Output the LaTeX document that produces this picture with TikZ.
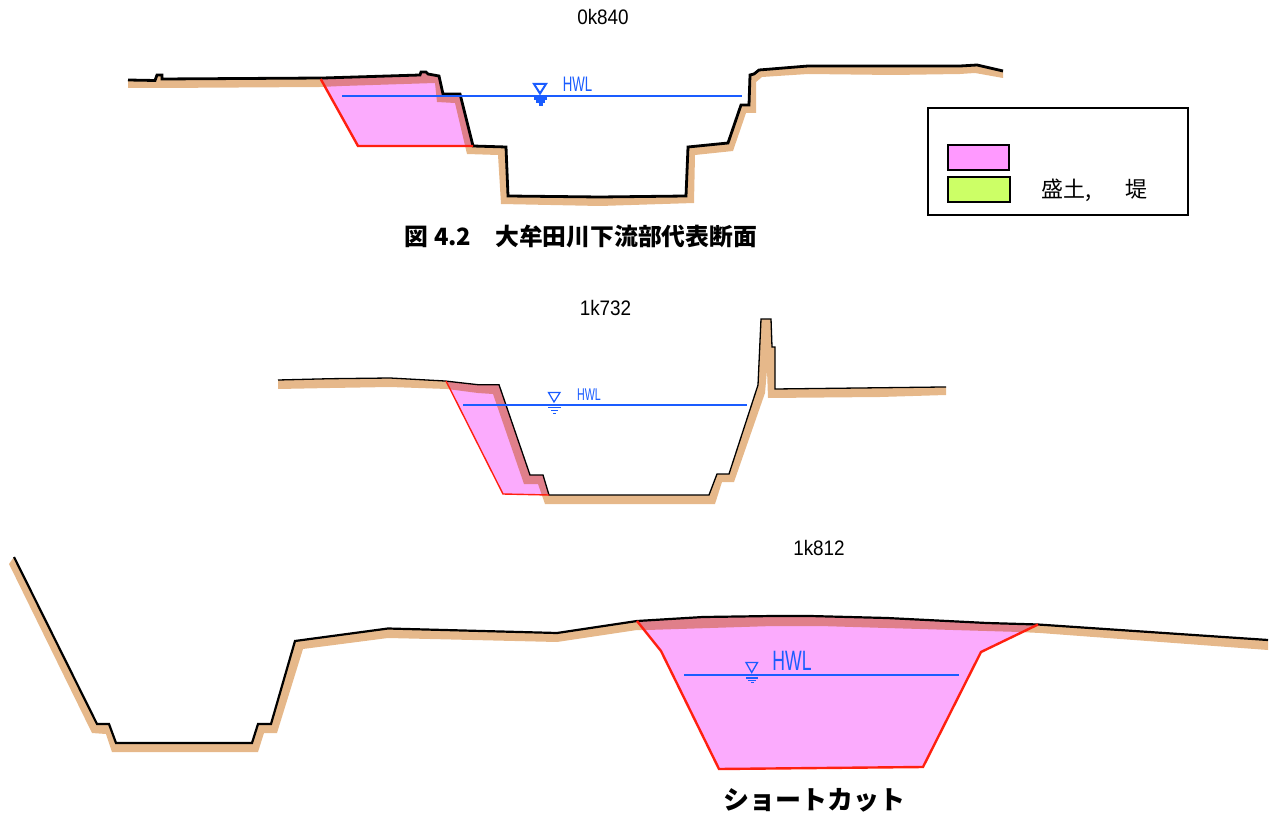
\documentclass[tikz,border=0pt]{standalone}
\usepackage{fontspec}
\setmainfont{Liberation Sans}
\newfontfamily\cjkfont{Noto Sans CJK JP}
\usepackage{tikz}
\definecolor{tierra}{HTML}{E6B88A}
\definecolor{rosacl}{HTML}{FBABFD}
\definecolor{rosaos}{HTML}{E07F8A}
\definecolor{rosaley}{HTML}{FF99FF}
\definecolor{verdeley}{HTML}{CCFF66}
\definecolor{azulhwl}{HTML}{1A5CFF}
\definecolor{rojocl}{HTML}{FF2010}
\newcommand{\FS}[1]{\fontsize{#1}{#1}\selectfont}
% Terreno: linea superior de cada seccion
\newcommand{\lineaA}{(128,80) -- (155,80.5) -- (157,75) -- (162,75) -- (162,79) -- (323,78) -- (420,75) -- (421,72) -- (426,72) -- (428,74) -- (439,76) -- (443,94) -- (460,94) -- (473,146) -- (506,147) -- (508,196) -- (600,197) -- (686,196) -- (688,147) -- (728,143) -- (741,105) -- (749,105) -- (750,75) -- (754,74) -- (759,70) -- (808,66) -- (893,66) -- (960,66) -- (977,65) -- (1003,71)}
\newcommand{\lineaB}{(278,380) -- (330,378.7) -- (390,378) -- (445,381) -- (478,384.7) -- (499,384.7) -- (530,475) -- (543,475) -- (549,495) -- (709,495) -- (717,474) -- (729,474) -- (758,385) -- (761,319) -- (771,319) -- (772,347) -- (775,347) -- (775,389) -- (943,387) -- (946,387)}
\newcommand{\lineaC}{(14,557) -- (97,724) -- (109,724) -- (116,743) -- (252,743) -- (258,724) -- (271,724) -- (295,641) -- (388,628.5) -- (557,633) -- (637,621) -- (703,617) -- (773,616) -- (810,616) -- (887,618) -- (987,623) -- (1038,624.5) -- (1268,640)}
% Banda de tierra: linea superior y vuelta por abajo
\newcommand{\bandaA}{\lineaA -- (1003,78) -- (975,73) -- (960,74) -- (893,75) -- (808,74) -- (762,77) -- (756,82) -- (756,113) -- (746,113) -- (733,151) -- (695,155) -- (694,203) -- (600,206) -- (501,204) -- (498,155) -- (467,154) -- (455,103) -- (437,102) -- (435,83) -- (342,86) -- (320,87) -- (158,88) -- (128,88) -- cycle}
\newcommand{\bandaB}{\lineaB -- (946,395) -- (880,397) -- (768,398) -- (767,370) -- (765,393) -- (734,482) -- (722,482) -- (715,504) -- (545,504) -- (538,484) -- (524,484) -- (493,394) -- (478,393) -- (447,389) -- (390,387) -- (330,388) -- (278,389) -- cycle}
\newcommand{\bandaC}{\lineaC -- (1268,650) -- (1040,633) -- (1020,632) -- (820,626) -- (773,626) -- (647,630) -- (637,630) -- (557,642) -- (388,638) -- (303,649) -- (277,733) -- (264,733) -- (258,752) -- (112,752) -- (106,734) -- (92,733) -- (9,564) -- cycle}
% Relleno rosa
\newcommand{\rellenoA}{(320.7,79) -- (358,146) -- (473,146) -- (460,94) -- (443,94) -- (439,76) -- (428,74) -- (426,72) -- (421,72) -- (420,75) -- (323,78) -- cycle}
\newcommand{\rellenoB}{(446,381) -- (503,494) -- (549,495) -- (543,475) -- (530,475) -- (499,384.7) -- (478,384.7) -- cycle}
\newcommand{\rellenoC}{(637,621) -- (661,651) -- (719,769) -- (923,767) -- (981,652) -- (1038,624.5) -- (987,623) -- (887,618) -- (810,616) -- (773,616) -- (703,617) -- cycle}
\tikzset{
  etiqueta/.style={font=\FS{21}, transform shape, xscale=.9, text=black},
  hwl/.style={text=azulhwl, transform shape, xscale=.63, inner sep=0pt},
  titulo/.style={text=black, inner sep=0pt}
}
\begin{document}
\begin{tikzpicture}[x=1pt,y=-1pt,line join=miter]
        \useasboundingbox (0,0) rectangle (1279,818);
        %######## Seccion 0k840 #############
        \fill[tierra] \bandaA;
        \fill[rosacl] \rellenoA;
        \begin{scope}
            \clip \rellenoA;
            \fill[rosaos] \bandaA;
        \end{scope}
        \draw[line width=2.8pt] \lineaA;
        \draw[rojocl, line width=2.4pt] (320.7,79) -- (358,146) -- (473,146);
        \draw[azulhwl, line width=2.4pt] (342,96) -- (742,96);
        % Marca HWL
        \draw[azulhwl, line width=2pt] (534,84) -- (546,84) -- (540,93.5) -- cycle;
        \draw[azulhwl, line width=2.2pt] (534,98.5) -- (547,98.5);
        \draw[azulhwl, line width=2.2pt] (536,101.5) -- (545,101.5);
        \draw[azulhwl, line width=2.2pt] (538.5,104.5) -- (542.5,104.5);
        \node[hwl, font=\FS{21}] (hwlA) at (577.5,84) {HWL};
        \node[etiqueta] (kmA) at (603,17) {0k840};
        %######## Seccion 1k732 #############
        \fill[tierra] \bandaB;
        \fill[rosacl] \rellenoB;
        \begin{scope}
            \clip \rellenoB;
            \fill[rosaos] \bandaB;
        \end{scope}
        \draw[line width=1.3pt] \lineaB;
        \draw[rojocl, line width=1.4pt] (446,381) -- (503,494) -- (549,495);
        \draw[azulhwl, line width=1.4pt] (463,405) -- (747,405);
        % Marca HWL
        \draw[azulhwl, line width=1.2pt] (548.5,392.5) -- (560,392.5) -- (554,402) -- cycle;
        \draw[azulhwl, line width=1.2pt] (548,407.7) -- (561,407.7);
        \draw[azulhwl, line width=1.2pt] (551,410.7) -- (558,410.7);
        \draw[azulhwl, line width=1.2pt] (553,413.7) -- (556,413.7);
        \node[hwl, font=\FS{17}] (hwlB) at (589,395) {HWL};
        \node[etiqueta] (kmB) at (605.5,308) {1k732};
        %######## Seccion 1k812 #############
        \fill[tierra] \bandaC;
        \fill[rosacl] \rellenoC;
        \begin{scope}
            \clip \rellenoC;
            \fill[rosaos] \bandaC;
        \end{scope}
        \draw[line width=2.2pt] \lineaC;
        \draw[rojocl, line width=2.4pt] (637,621) -- (661,651) -- (719,769) -- (923,767) -- (981,652) -- (1038,624.5);
        \draw[azulhwl, line width=2.4pt] (684,675) -- (959,675);
        % Marca HWL
        \draw[azulhwl, line width=1.3pt] (746,662.5) -- (757.5,662.5) -- (751.7,672.5) -- cycle;
        \draw[azulhwl, line width=1.3pt] (746,678) -- (758,678);
        \draw[azulhwl, line width=1.3pt] (748,680.5) -- (756,680.5);
        \draw[azulhwl, line width=1.3pt] (751,682.8) -- (754,682.8);
        \node[hwl, font=\FS{28}] (hwlC) at (792,661) {HWL};
        \node[etiqueta] (kmC) at (819,548) {1k812};
        %######## Leyenda #############
        \draw[line width=1.6pt, fill=white] (928,108) rectangle (1188,215);
        \draw[line width=1.6pt, fill=rosaley] (948,145) rectangle (1009,170);
        \draw[line width=1.6pt, fill=verdeley] (948,177) rectangle (1010,202);
        \node[font=\cjkfont\FS{22}, anchor=west, inner sep=0pt] (leyenda) at (1041,190) {盛土,\hspace{34pt}堤};
        %######## Titulos #############
        \node[titulo, font=\cjkfont\bfseries\FS{23.8}] (tituloA) at (581,237) {図 4.2\hspace{24pt}大牟田川下流部代表断面};
        \node[titulo, font=\cjkfont\bfseries\FS{26}] (tituloB) at (814,800) {ショートカット};
\end{tikzpicture}
\end{document}
